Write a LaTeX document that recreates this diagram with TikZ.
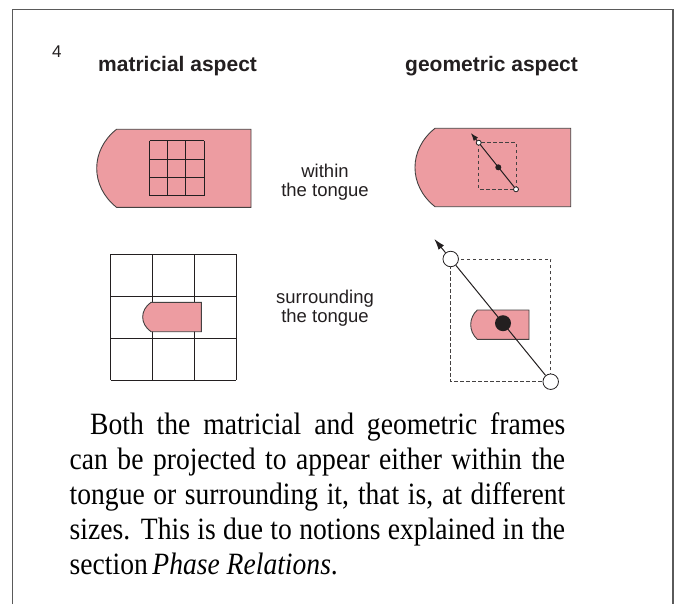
\documentclass[tikz,border=0pt]{standalone}
\usepackage{fontspec}
\usepackage{graphicx}
\setmainfont{Liberation Serif}
\setsansfont{Liberation Sans}
\usetikzlibrary{arrows.meta}
\definecolor{tonguepink}{RGB}{237,156,161}
\definecolor{ink}{RGB}{35,31,32}
\definecolor{framegray}{RGB}{90,90,90}
\newcommand\fitline[2]{\scalebox{0.89}[1]{\makebox[#1][s]{#2}}}
\tikzset{
  tonguestyle/.style={fill=tonguepink, draw=ink!85, line width=0.9pt},
  gridline/.style={draw=ink, line width=1pt},
  dashbox/.style={draw=ink!85, line width=0.9pt, dash pattern=on 3.5pt off 2.5pt},
  opendot/.style={circle, draw=ink, fill=white, line width=0.8pt, inner sep=0pt},
  fulldot/.style={circle, fill=ink, inner sep=0pt},
  axisline/.style={draw=ink, line width=1pt},
  titletext/.style={anchor=base west, inner sep=0pt, font=\sffamily\bfseries\fontsize{21}{21}\selectfont, text=ink},
  labeltext/.style={anchor=base, inner sep=0pt, font=\sffamily\fontsize{18.5}{19}\selectfont, text=ink},
  bodytext/.style={anchor=base west, inner sep=0pt, font=\rmfamily\fontsize{31}{35}\selectfont, text=black},
}
\begin{document}
\begin{tikzpicture}[x=1pt, y=-1pt]
\useasboundingbox (0,0) rectangle (676,604);
% frame
\draw[framegray, line width=1.6pt] (12.5,604) -- (12.5,9.5) -- (672.7,9.5) -- (672.7,604);

% headings
\node[anchor=base west, inner sep=0pt, font=\sffamily\fontsize{17}{17}\selectfont, text=ink] (num) at (52,58) {4};
\node[titletext] (mat) at (98,72) {matricial aspect};
\node[titletext] (geo) at (405,72) {geometric aspect};

% top-left tongue with grid
\draw[tonguestyle] (116.5,129.3) -- (251,129.3) -- (251,207.3) -- (116.5,207.3)
  .. controls (90.1,186.3) and (90.1,150.3) .. cycle;
\foreach \x in {149.5,167.7,185.9,204.1} \draw[gridline] (\x,141) -- (\x,195.6);
\foreach \y in {141,159.2,177.4,195.6} \draw[gridline] (149.5,\y) -- (204.1,\y);

% top-right tongue with geometric frame
\draw[tonguestyle] (435,128.3) -- (570.7,128.3) -- (570.7,206.7) -- (435,206.7)
  .. controls (408.3,185.5) and (408.3,149.5) .. cycle;
\draw[dashbox] (478.7,142.7) rectangle (516,189.3);
\node[opendot, minimum size=5pt] (ta) at (478.7,142.7) {};
\node[opendot, minimum size=5pt] (tb) at (516,189.3) {};
\coordinate (tarrow) at (470.8,133);
\draw[axisline] (tb) -- (ta);
\draw[axisline, -{Latex[length=8pt, width=5.5pt]}] (ta) -- (tarrow);
\node[fulldot, minimum size=6pt] (tc) at (498.3,167.3) {};

% labels
\node[labeltext] (w1) at (325,177) {within};
\node[labeltext] (w2) at (325,196) {the tongue};
\node[labeltext] (s1) at (325,303) {surrounding};
\node[labeltext] (s2) at (325,322) {the tongue};

% bottom-left grid with small tongue
\foreach \x in {110.7,152.5,194.3,236} \draw[gridline] (\x,254.3) -- (\x,380);
\foreach \y in {254.3,296.2,338.1,380} \draw[gridline] (110.7,\y) -- (236,\y);
\draw[tonguestyle] (151,302.3) -- (201.3,302.3) -- (201.3,331.7) -- (151,331.7)
  .. controls (139.9,323.8) and (139.9,310.2) .. cycle;

% bottom-right geometric frame with small tongue
\draw[dashbox] (450.7,259) rectangle (550.7,381.7);
\draw[tonguestyle] (477.3,310) -- (529,310) -- (529,339.3) -- (477.3,339.3)
  .. controls (468.5,331.3) and (468.5,318) .. cycle;
\node[opendot, minimum size=15.5pt] (ba) at (450.7,259) {};
\node[opendot, minimum size=15.5pt] (bb) at (550.7,381.7) {};
\coordinate (barrow) at (434.3,239);
\draw[axisline] (bb) -- (ba);
\draw[axisline, -{Latex[length=11pt, width=7pt]}] (ba) -- (barrow);
\node[fulldot, minimum size=16pt] (bc) at (503,323.2) {};

% body text
\node[bodytext] (l1) at (90,434) {\fitline{533.7pt}{Both the matricial and geometric frames}};
\node[bodytext] (l2) at (69.5,469) {\fitline{556.7pt}{can be projected to appear either within the}};
\node[bodytext] (l3) at (69.5,504) {\fitline{556.7pt}{tongue or surrounding it, that is, at different}};
\node[bodytext] (l4) at (69.5,539) {\fitline{556.7pt}{sizes. This is due to notions explained in the}};
\node[bodytext] (l5) at (69.5,574) {\scalebox{0.89}[1]{section\,\textit{Phase Relations}.}};
\end{tikzpicture}
\end{document}
